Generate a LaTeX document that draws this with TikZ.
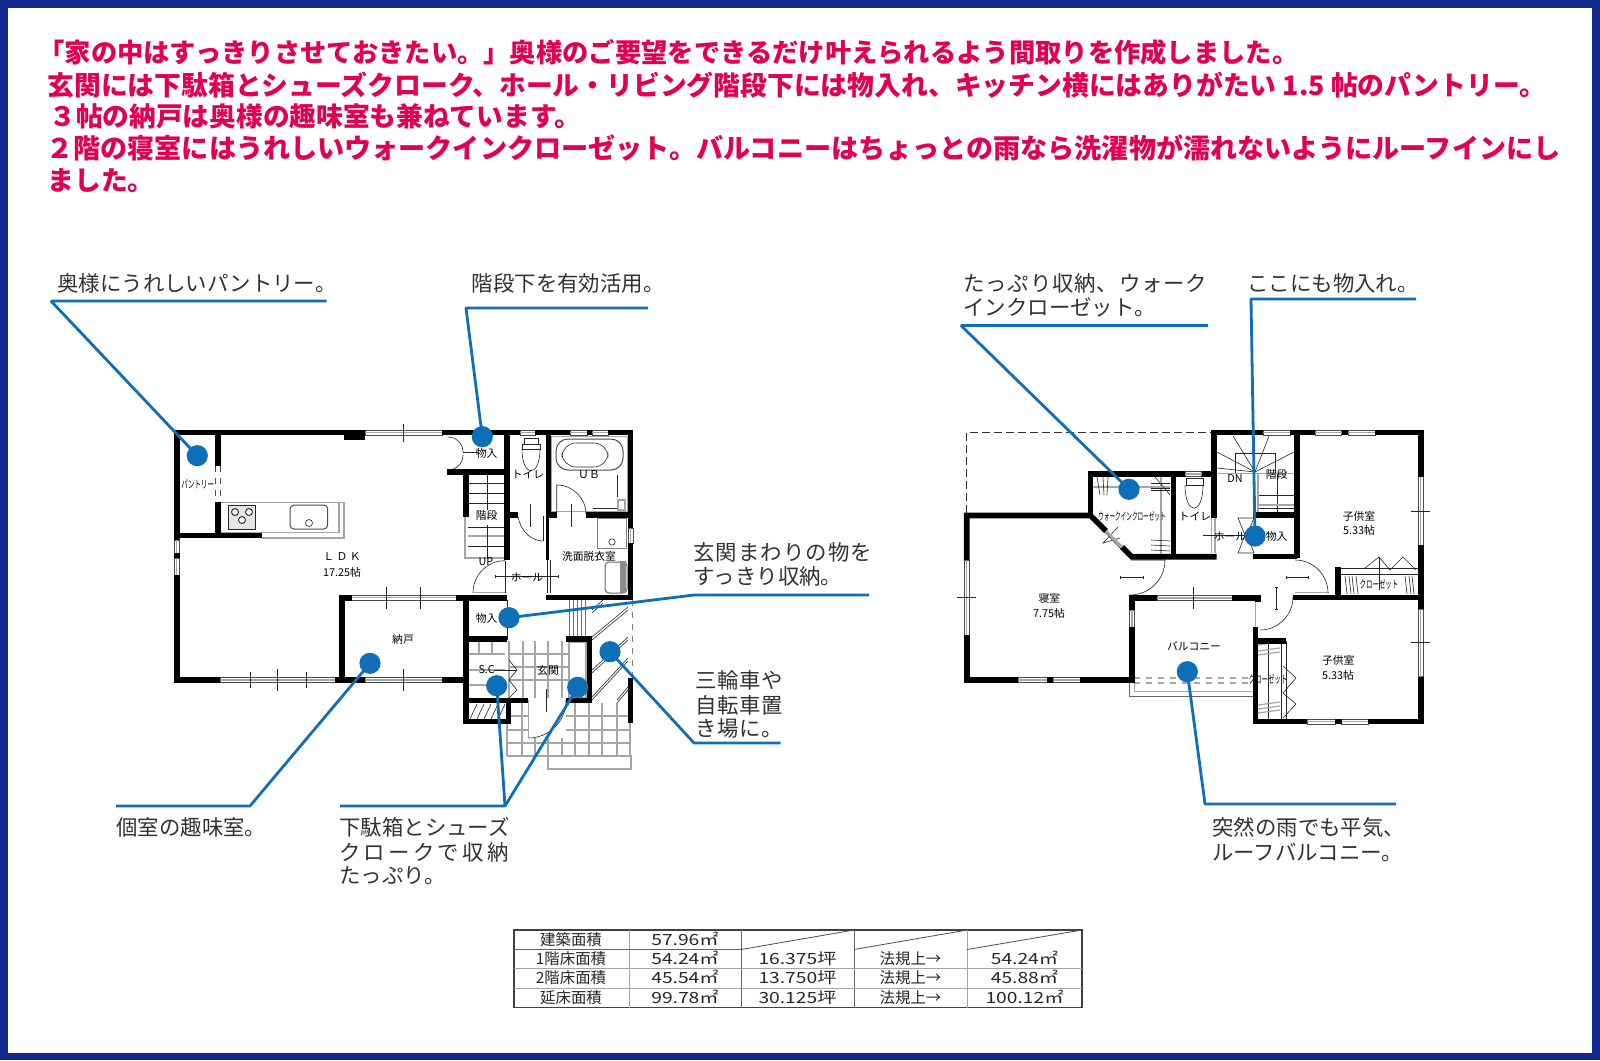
\documentclass[tikz,border=0pt]{standalone}
\usepackage{fontspec}
\setmainfont{Noto Sans CJK JP}
\usetikzlibrary{positioning}
\definecolor{framenavy}{RGB}{15,42,140}
\definecolor{headred}{RGB}{226,0,82}
\definecolor{calloutblue}{RGB}{15,110,184}
\definecolor{labelgray}{RGB}{50,50,50}
\definecolor{fixgray}{RGB}{165,165,165}
\tikzset{
  wall/.style={line width=2.8pt, line join=miter},
  thinline/.style={line width=0.3pt, black!85},
  grayline/.style={line width=0.6pt, fixgray},
  leader/.style={line width=1.4pt, calloutblue},
  dot/.style={circle, fill=calloutblue, minimum size=10.6pt, inner sep=0pt},
  headline/.style={anchor=west, inner sep=0pt, text=headred, font=\bfseries},
  calltext/.style={anchor=west, inner sep=0pt, text=labelgray, font=\fontsize{10.7}{12}\selectfont},
  roomtext/.style={inner sep=0pt, font=\fontsize{5.4}{6}\selectfont},
  cell/.style={anchor=base, inner sep=0pt, text=black!85, font=\fontsize{7.7}{9}\selectfont},
}
\newcommand{\winh}[3]{% window along x: from, to, y
  \draw[line width=0.3pt, black!70, fill=white] (#1,#3-2.4) rectangle (#2,#3+2.4);
  \draw[line width=0.7pt, fixgray] (#1,#3) -- (#2,#3);
}
\newcommand{\winv}[3]{% window along y: from, to, x
  \draw[line width=0.3pt, black!70, fill=white] (#3-2.4,#1) rectangle (#3+2.4,#2);
  \draw[line width=0.7pt, fixgray] (#3,#1) -- (#3,#2);
}
\newcommand{\wide}[1]{\scalebox{1.25}[1]{#1}}
\begin{document}
\begin{tikzpicture}[x=0.5pt, y=-0.5pt]
  \useasboundingbox (0,0) rectangle (1600,1060);
  \fill[framenavy] (0,0) rectangle (1600,1060);
  \fill[white] (8,8) rectangle (1592,1053);

  % head text
  \foreach \yy/\xx/\fs/\txt in {
    52/38/13.15/{「家の中はすっきりさせておきたい。」奥様のご要望をできるだけ叶えられるよう間取りを作成しました。},
    84.7/47/13.4/{玄関には下駄箱とシューズクローク、ホール・リビング階段下には物入れ、キッチン横にはありがたい 1.5 帖のパントリー。},
    116.3/49/13.35/{３帖の納戸は奥様の趣味室も兼ねています。},
    148/46/13.55/{２階の寝室にはうれしいウォークインクローゼット。バルコニーはちょっとの雨なら洗濯物が濡れないようにルーフインにし},
    180.6/47/13.4/{ました。}
  }{
    \node[headline] at (\xx,\yy) {\fontsize{\fs}{15}\selectfont\txt};
  }

  % first floor: fixtures
  \draw[grayline, fill=white] (220.7,502.7) rectangle (339,532.7);
  \draw[grayline] (339,502.7) -- (344,502.7) -- (344,538) -- (262,538);
  \draw[thinline, fill=black!10] (228,505.7) rectangle (255.7,529);
  \foreach \xx/\yy in {235/512, 249/512, 242/520}{
    \draw[line width=0.5pt, black!80, fill=white] (\xx,\yy) circle (3.5);
  }
  \draw[line width=0.5pt, black!70, rounded corners=2pt] (290,505) rectangle (327.7,529);
  \draw[thinline] (309,523) circle (3.5);
  % first floor: stairs
  \draw[grayline] (465,517) -- (465,558) -- (504,558);
  \draw[thinline] (468,483) -- (504,483) (468,493) -- (504,493) (468,503) -- (504,503) (487,473) -- (487,510);
  \draw[grayline] (468,536) -- (504,536);
  \draw[thinline] (468,527) -- (504,527) (468,546) -- (504,546) (487,525) -- (487,558);
  % first floor: bath and toilet
  \draw[grayline] (551.7,436.7) rectangle (628,511.7);
  \draw[line width=0.5pt, black!70, rounded corners=6pt, fill=white] (556,439) rectangle (623,470);
  \draw[thinline, rounded corners=7pt] (562,443) rectangle (608,467);
  \draw[thinline] (524,438) rectangle (538,444) (522,444) rectangle (540,449);
  \draw[thinline] (522,449) .. controls (522,478) and (540,478) .. (540,449);
  \draw[thinline] (617,475) -- (617,497) (593,508) -- (617,508);
  \draw[grayline] (618,500) rectangle (625,510);
  \draw[line width=0.5pt, black!50] (597.7,518) rectangle (626.7,548);
  \draw[thinline] (612,542) circle (3.2);
  \draw[line width=0.5pt, black!60, rounded corners=2pt] (605,562) rectangle (627,593);
  \fill[black!45] (620,561) rectangle (626,593);
  % first floor: doors
  \draw[thinline] (556.7,513) -- (556.7,485) arc[start angle=-90, end angle=0, radius=29.3];
  \draw[thinline] (543,541) -- (543,516);
  \draw[thinline] (518,517) .. controls (521,532) and (532,541) .. (543,541);
  \draw[thinline] (530.7,504) -- (530.7,526.7) (571,504) -- (571,526.7);
  \draw[thinline] (505,592.7) -- (505,560.7);
  \draw[thinline] (473,592.7) arc[start angle=180, end angle=270, radius=32];
  \draw[grayline] (473,592.7) -- (505,592.7);
  \draw[thinline] (448,437) arc[start angle=-90, end angle=0, radius=15];
  \draw[thinline] (448,470) arc[start angle=90, end angle=0, radius=15];
  \draw[thinline] (463,452.7) -- (478,452.7);
  \draw[thinline] (547,560) -- (547,593) (550,560) -- (550,593);
  \draw[thinline] (507,600) -- (507,640);
  \draw[thinline] (495,576.5) -- (558,576.5) (495,575) -- (495,578) (558,575) -- (558,578);
  % first floor: entrance floor
  \foreach \xx in {509,523,535,548,562}{ \draw[grayline] (\xx,641) -- (\xx,698); }
  \foreach \yy in {654,667,680}{ \draw[grayline] (509,\yy) -- (568,\yy); }
  \foreach \xx in {479,492}{ \draw[grayline] (\xx,641) -- (\xx,655); }
  \foreach \yy in {654,670,685}{ \draw[grayline] (468,\yy) -- (505,\yy); }
  \draw[grayline] (569,642) rectangle (586,698);
  \foreach \xx in {569,573,577,581,585}{ \draw[line width=0.4pt, black!55] (\xx,600) -- (\xx,637); }
  \foreach \xa/\ya/\xb/\yb in {592/637/628/607, 592/670/628/637, 592/697/628/658, 617/700/628/687, 592/610/603/600}{
    \draw[thinline] (\xa,\ya) -- (\xb,\yb);
    \draw[thinline] (\xa,\ya+3) -- (\xb,\yb+3);
  }
  \draw[line width=0.5pt, black!50, dashed] (632,600) -- (632,678);
  % first floor: porch
  \foreach \xx in {507,522,535,548,562,575,589,602,617,630}{ \draw[grayline] (\xx,703) -- (\xx,756); }
  \foreach \yy in {716,730,743,756}{ \draw[grayline] (507,\yy) -- (630,\yy); }
  \draw[grayline] (548,756) rectangle (631,769);
  \fill[white] (529,702) rectangle (566,738);
  \draw[grayline] (528.5,700) -- (528.5,738);
  \draw[thinline] (528.5,738) arc[start angle=90, end angle=0, radius=37.5];
  \draw[thinline] (546.7,689) -- (546.7,712);
  \foreach \xx in {474,481,488,495,502}{ \draw[thinline] (\xx-4,719) -- (\xx+3,704); }
  \draw[thinline] (509,660) -- (517,670) -- (509,680) -- (517,690) -- (509,698);
  \draw[thinline] (494,670) -- (517,670);

  % first floor: windows
  \winh{365}{442}{432.5}
  \winh{520}{535}{432.5}
  \winh{570}{587}{432.5}
  \winh{592}{608}{432.5}
  \winh{220}{335}{680}
  \winh{365}{442}{680}
  \winh{351.7}{456}{597.7}
  \winv{540}{553}{176.7}
  \winv{558}{575}{176.7}
  \winv{528}{543}{630.5}
  \draw[line width=0.3pt, black!70, dashed] (215.5,466) -- (215.5,502) (220.5,466) -- (220.5,502);
  \foreach \xx/\yy/\hh in {403/432.5/9, 250/680/8, 277.7/680/11, 306/680/8, 403/680/11, 386.7/597.7/11, 420.7/597.7/11}{
    \draw[thinline] (\xx,\yy-\hh) -- (\xx,\yy+\hh);
  }
  % first floor: walls
  \draw[wall] (176.7,540) -- (176.7,432.5) -- (365,432.5);
  \fill (344,432) rectangle (365,440);
  \draw[wall] (442,432.5) -- (520,432.5) (535,432.5) -- (570,432.5) (587,432.5) -- (592,432.5);
  \draw[wall] (608,432.5) -- (630.5,432.5) -- (630.5,528) (630.5,543) -- (630.5,597.5) -- (546,597.5);
  \draw[wall] (176.7,575) -- (176.7,680) -- (220,680) (335,680) -- (365,680) (442,680) -- (466,680);
  \draw[wall] (176.7,553) -- (176.7,558);
  \draw[wall] (218,432.5) -- (218,466) (218,502) -- (218,535.5) (176.7,535.5) -- (262,535.5);
  \draw[wall] (351.7,597.7) -- (342,597.7) -- (342,680) (456,597.7) -- (507,597.7);
  \draw[wall] (466,517) -- (466,471.7) -- (507,471.7) (447,471.7) -- (466,471.7);
  \draw[wall] (507,432.5) -- (507,560) (507,515) -- (518,515);
  \draw[wall] (548.3,432.5) -- (548.3,513) (546,515) -- (557,515) (586,515) -- (630.5,515);
  \draw[line width=1.4pt] (547.6,517) -- (547.6,560);
  \draw[wall] (466,597.5) -- (466,721.5) -- (508.5,721.5) -- (508.5,700.5);
  \draw[wall] (466,639) -- (507,639) (466,700.5) -- (528,700.5);
  \draw[wall] (566,639) -- (589.5,639) -- (589.5,700.5) -- (566,700.5);
  \draw[wall] (630.5,678) -- (630.5,723);
  % first floor: room names
  \foreach \nm/\xx/\yy/\txt in {
    ldkname/342/556.7/{Ｌ Ｄ Ｋ}, ldksize/342/572/{17.25帖}, pantryname/197.7/484/{\scalebox{.6}[1]{パントリー}},
    storeone/486.7/453/{物入}, stairone/486.7/515.7/{階段}, upmark/486/562/{UP}, storetwo/486.7/618.7/{物入},
    scname/486.7/670/{S.C}, genkan/548/670/{玄関}, nando/403/639/{納戸}, toiletone/528/474/{トイレ},
    ubname/589/475/{ＵＢ}, washroom/589/556/{洗面脱衣室}, hallone/527/577/{ホール}
  }{
    \node[roomtext] (\nm) at (\xx,\yy) {\txt};
  }

  % second floor: fixtures
  \draw[line width=0.4pt, black!80, dash pattern=on 4pt off 2pt] (966.7,513) -- (966.7,432.3) -- (1211.7,432.3);
  \draw[grayline] (1093,487) -- (1170,487) (1161,476) -- (1161,554);
  \foreach \xa/\xb in {1097/1100, 1103/1104, 1108/1107, 1155/1170}{
    \draw[thinline] (\xa,477) -- (\xb,495);
  }
  \foreach \yy in {540,545,550}{ \draw[thinline] (1151,\yy) -- (1170,\yy+1); }
  \foreach \yy in {483,488,490}{ \draw[thinline] (1151,\yy) -- (1170,\yy); }
  \draw[thinline] (1186,478) rectangle (1203,485);
  \draw[thinline] (1185,485) .. controls (1185,516) and (1203,516) .. (1203,485);
  \draw[grayline] (1211.7,483) -- (1211.7,553) (1215,483) -- (1215,553);
  \draw[grayline, dashed] (1134,678) -- (1253,678) (1134,683) -- (1253,683);
  \draw[line width=0.4pt, black!60] (1129.5,682) -- (1129.5,696) -- (1253,696);
  \draw[grayline] (1134.5,683) -- (1134.5,691.7) -- (1253,691.7);
  % second floor: stairs
  \foreach \xa/\ya in {1233/436, 1217/452, 1217/468, 1269/436, 1294/452}{
    \draw[thinline] (1255,472) -- (\xa,\ya);
  }
  \draw[grayline] (1217,473.5) -- (1294,473.5);
  \draw[thinline] (1235,473) -- (1235,453) -- (1275,453) -- (1275,473);
  \draw[thinline] (1258,495) -- (1294,495) (1258,508) -- (1294,508) (1277,474) -- (1277,513);
  \draw[grayline] (1258,474) -- (1258,513);
  \draw[grayline] (1258,505) -- (1294,505);
  % second floor: doors
  \draw[grayline] (1131,560) -- (1165,560);
  \draw[thinline] (1165,560) arc[start angle=0, end angle=90, radius=35];
  \draw[grayline] (1295,592.7) -- (1329,592.7);
  \draw[thinline] (1295,560) arc[start angle=-90, end angle=0, radius=33];
  \draw[thinline] (1293,597) arc[start angle=0, end angle=90, radius=33];
  \draw[thinline] (1120,577) -- (1143,577) (1120,575.5) -- (1120,578.5) (1143,575.5) -- (1143,578.5);
  \draw[thinline] (1286,577) -- (1308,577) (1286,575.5) -- (1286,578.5) (1308,575.5) -- (1308,578.5);
  \draw[thinline] (1276,587) -- (1276,609) (1274.5,587) -- (1277.5,587) (1274.5,609) -- (1277.5,609);
  \draw[thinline] (1193.3,587) -- (1193.3,609);
  \draw[thinline] (1103,530) -- (1122,550) (1118,527) -- (1103,543) -- (1120,538);
  \draw[thinline] (1238,518) -- (1254,518) -- (1247,535) -- (1254,553) -- (1238,553) -- (1245,535) -- cycle;
  \draw[thinline] (1203,535) -- (1255,535);
  % second floor: closets
  \draw[thinline] (1341,568) -- (1418,568) (1341,574) -- (1418,574);
  \draw[thinline] (1365,568) -- (1379,557) -- (1390,570) -- (1403,557) -- (1416,570);
  \draw[thinline] (1379,557) -- (1379,590);
  \foreach \xx in {1345,1349,1352,1356,1405,1409,1412}{ \draw[thinline] (\xx,576) -- (\xx+2,594); }
  \draw[thinline] (1268,641) -- (1268,719) (1281,641) -- (1281,719) (1286,641) -- (1286,719);
  \draw[thinline] (1283,666) -- (1296,678) -- (1283,693) -- (1296,704) -- (1283,718);
  \foreach \yy in {645,651,655,705,709,713}{ \draw[grayline] (1258,\yy) -- (1280,\yy-3); }
  \draw[grayline] (1255.5,600) -- (1255.5,627);
  % second floor: windows
  \winh{1185}{1201.7}{474}
  \winh{1263}{1290}{432.5}
  \winh{1315}{1341.7}{432.5}
  \winh{1348}{1375}{432.5}
  \winh{1307}{1335}{721.5}
  \winh{1341.7}{1368}{721.5}
  \winh{1018}{1047}{680}
  \winh{1053}{1080}{680}
  \winh{1157}{1232}{598}
  \winv{560}{635}{966.7}
  \winv{610}{627}{1132}
  \winv{476.7}{545}{1420.7}
  \winv{609}{676.7}{1420.7}
  \foreach \xa/\ya/\xb/\yb in {957/597.3/976/597.3, 1411/511/1430/511, 1411/642.7/1430/642.7, 1193.3/590/1193.3/606}{
    \draw[thinline] (\xa,\ya) -- (\xb,\yb);
  }
  % second floor: walls
  \draw[wall] (966.7,560) -- (966.7,515.5) -- (1090.5,515.5) -- (1106,531);
  \draw[wall] (1122,547) -- (1131.7,556.7) -- (1216.7,556.7);
  \draw[line width=1.4pt, fixgray] (1106,531) -- (1122,547);
  \draw[wall] (966.7,635) -- (966.7,680) -- (1018,680) (1047,680) -- (1053,680) (1080,680) -- (1132,680) -- (1132,627) (1132,610) -- (1132,598) -- (1157,598);
  \draw[wall] (1090.5,515.5) -- (1090.5,474) -- (1185,474) (1201.7,474) -- (1214,474);
  \draw[wall] (1173.3,474) -- (1173.3,556.7);
  \draw[wall] (1214,518) -- (1214,432.5) -- (1263,432.5) (1290,432.5) -- (1315,432.5) (1341.7,432.5) -- (1348,432.5);
  \draw[wall] (1375,432.5) -- (1420.7,432.5) -- (1420.7,476.7) (1420.7,545) -- (1420.7,609) (1420.7,676.7) -- (1420.7,721.5) -- (1368,721.5) (1335,721.5) -- (1341.7,721.5) (1307,721.5) -- (1255.5,721.5) -- (1255.5,627);
  \draw[wall] (1296.7,432.5) -- (1296.7,558) (1253,515) -- (1296.7,515) (1253,556.3) -- (1296.7,556.3);
  \draw[wall] (1293.3,597.5) -- (1420.7,597.5) (1338,597.5) -- (1338,567);
  \draw[wall] (1232,598) -- (1258,598) -- (1258,602) (1255.5,641) -- (1286,641);
  % second floor: room names
  \foreach \nm/\xx/\yy/\txt in {
    bedname/1049.3/598/{寝室}, bedsize/1049/613/{7.75帖}, balcony/1194/646/{バルコニー},
    wicname/1132/516/{\scalebox{.52}[1]{ウォークインクローゼット}}, toilettwo/1195/516/{トイレ}, halltwo/1230/536/{ホール},
    dnmark/1235/479/{DN}, stairtwo/1276.7/474/{階段}, storethree/1276.7/536/{物入},
    kidsone/1359/516/{子供室}, kidsonesize/1359/530.7/{5.33帖}, kidstwo/1338.3/660/{子供室}, kidstwosize/1338/675/{5.33帖},
    closetone/1379/584.3/{\scalebox{.6}[1]{クローゼット}}, closettwo/1268/679.3/{\scalebox{.6}[1]{クローゼット}}
  }{
    \node[roomtext] (\nm) at (\xx,\yy) {\txt};
  }

  % callout texts
  \node[calltext] (tpantry) at (57,283) {奥様にうれしいパントリー。};
  \node[calltext] (tstair) at (471.4,283) {階段下を有効活用。};
  \node[calltext] (tentryone) at (693,552) {\addfontfeature{LetterSpace=5}玄関まわりの物を};
  \node[calltext] (tentrytwo) at (693,576.5) {すっきり収納。};
  \node[calltext] (tcycleone) at (695,680.6) {\addfontfeature{LetterSpace=3}三輪車や};
  \node[calltext] (tcycletwo) at (695,705) {\addfontfeature{LetterSpace=3}自転車置};
  \node[calltext] (tcyclethree) at (695,728.6) {\addfontfeature{LetterSpace=3}き場に。};
  \node[calltext] (thobby) at (116,827.6) {個室の趣味室。};
  \node[calltext] (tshoeone) at (339,827.6) {下駄箱とシューズ};
  \node[calltext] (tshoetwo) at (339,852) {\addfontfeature{LetterSpace=15}クロークで収納};
  \node[calltext] (tshoethree) at (339,875.5) {たっぷり。};
  \node[calltext] (twicone) at (963,283) {\addfontfeature{LetterSpace=4}たっぷり収納、ウォーク};
  \node[calltext] (twictwo) at (963,307) {インクローゼット。};
  \node[calltext] (tupstore) at (1247,283) {ここにも物入れ。};
  \node[calltext] (trainone) at (1212,827.6) {突然の雨でも平気、};
  \node[calltext] (traintwo) at (1212,852) {ルーフバルコニー。};

  % callout dots
  \node[dot] (dpantry) at (197.3,455.7) {};
  \node[dot] (dstair) at (482.3,436.7) {};
  \node[dot] (dentry) at (509,617.7) {};
  \node[dot] (dcycle) at (610,651.7) {};
  \node[dot] (dsc) at (496.7,685.7) {};
  \node[dot] (dshoe) at (577.7,687.3) {};
  \node[dot] (dhobby) at (370,663.3) {};
  \node[dot] (dwic) at (1129,489.3) {};
  \node[dot] (dupstore) at (1255,536) {};
  \node[dot] (drain) at (1187.3,671.7) {};

  % callout lines: free end, elbow, dot
  \foreach \ea/\eb/\ex/\ey/\target in {
    326.5/301/51/301/dpantry, 648/308/466/308/dstair, 869/595/694/595/dentry,
    780.6/743/694/743/dcycle, 116/806/250/806/dhobby, 340/806/505/806/dsc,
    1208/325.5/961/325.5/dwic, 1416/299/1251/299/dupstore, 1396/804/1205/804/drain%
  }{
    \coordinate (free) at (\ea,\eb);
    \coordinate (elbow) at (\ex,\ey);
    \draw[leader, line join=bevel] (free) -- (elbow) -- (\target.center);
  }
  \coordinate (shoeelbow) at (505,806);
  \draw[leader] (shoeelbow) -- (dshoe.center);

  % area table
  \draw[line width=0.6pt, black!75] (514,930) rectangle (1082,1007.5);
  \foreach \xx/\col in {629/fixgray, 741/black!60, 854/black!60, 967/fixgray}{
    \draw[line width=0.5pt, \col] (\xx,930) -- (\xx,1007.5);
  }
  \draw[line width=0.5pt, black!60] (514,949.5) -- (741,949.5);
  \draw[line width=0.5pt, fixgray] (514,968.5) -- (1082,968.5) (514,988) -- (1082,988);
  \foreach \xa/\xb in {741/854, 854/967, 967/1082}{
    \draw[line width=0.4pt, black!70] (\xa,949.5) -- (\xb,930);
  }
  % rows: name, area, tsubo, note, legal area
  \foreach \yy/\aa/\bb/\cc/\dd/\ee in {
    945/建築面積/57.96㎡///,
    964/1階床面積/54.24㎡/16.375坪/法規上→/54.24㎡,
    983/2階床面積/45.54㎡/13.750坪/法規上→/45.88㎡,
    1003/延床面積/99.78㎡/30.125坪/法規上→/100.12㎡%
  }{
    \node[cell] at (571,\yy) {\aa};
    \node[cell] at (685,\yy) {\wide{\bb}};
    \node[cell] at (797.5,\yy) {\wide{\cc}};
    \node[cell] at (910.5,\yy) {\dd};
    \node[cell] at (1024.5,\yy) {\wide{\ee}};
  }
\end{tikzpicture}
\end{document}
